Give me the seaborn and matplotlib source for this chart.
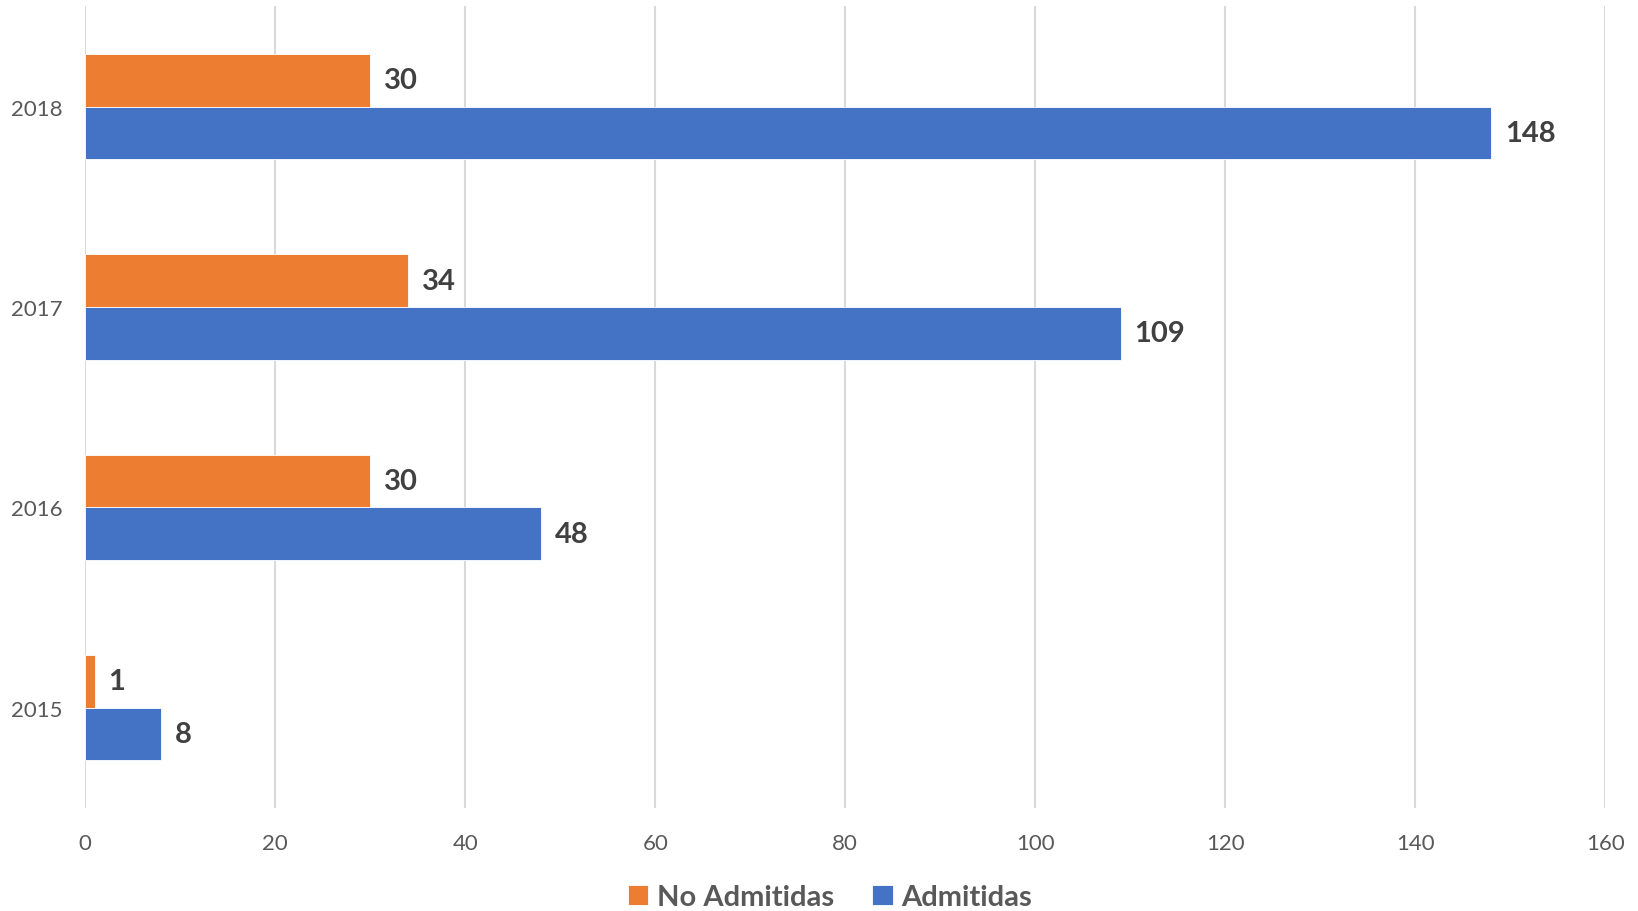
import pandas as pd
import matplotlib.pyplot as plt
import seaborn as sns

# Datos del gráfico
anios = ["2018", "2017", "2016", "2015"]
no_admitidas = [30, 34, 30, 1]
admitidas = [148, 109, 48, 8]
series = ["No Admitidas", "Admitidas"]
colores = ["#ED7D31", "#4472C4"]

df = pd.DataFrame({
    "Año": anios * 2,
    "Serie": [series[0]] * len(anios) + [series[1]] * len(anios),
    "Valor": no_admitidas + admitidas,
})

sns.set_style("white")
plt.rcParams["font.family"] = ["Lato", "DejaVu Sans"]

fig = plt.figure(figsize=(16.38, 9.12), dpi=100)
ax = fig.add_axes([0.052, 0.113, 0.928, 0.879])

sns.barplot(
    data=df, x="Valor", y="Año", hue="Serie", order=anios, hue_order=series,
    palette=colores, saturation=1, orient="h", width=0.526,
    edgecolor="white", linewidth=0.6, ax=ax, legend=True,
)

for cont in ax.containers:
    ax.bar_label(cont, padding=10, fontsize=21, fontweight="bold", color="#404040")

ax.set_xlim(0, 160)
ax.set_ylim(3.5, -0.5)
ax.set_xticks(range(0, 161, 20))
ax.set_xlabel("")
ax.set_ylabel("")
ax.grid(axis="x", color="#d9d9d9", linewidth=1.5)
ax.set_axisbelow(True)
for s in ax.spines.values():
    s.set_visible(False)
ax.tick_params(axis="both", length=0, labelsize=16, labelcolor="#595959")
ax.tick_params(axis="y", pad=16)
ax.tick_params(axis="x", pad=18)

ax.legend(
    loc="center", bbox_to_anchor=(0.49, -0.111), ncol=2, frameon=False,
    prop={"size": 21, "weight": "bold"}, labelcolor="#595959",
    handlelength=0.7, handleheight=0.7, handletextpad=0.3, columnspacing=1.3,
)

fig.savefig("out.png", dpi=100)
